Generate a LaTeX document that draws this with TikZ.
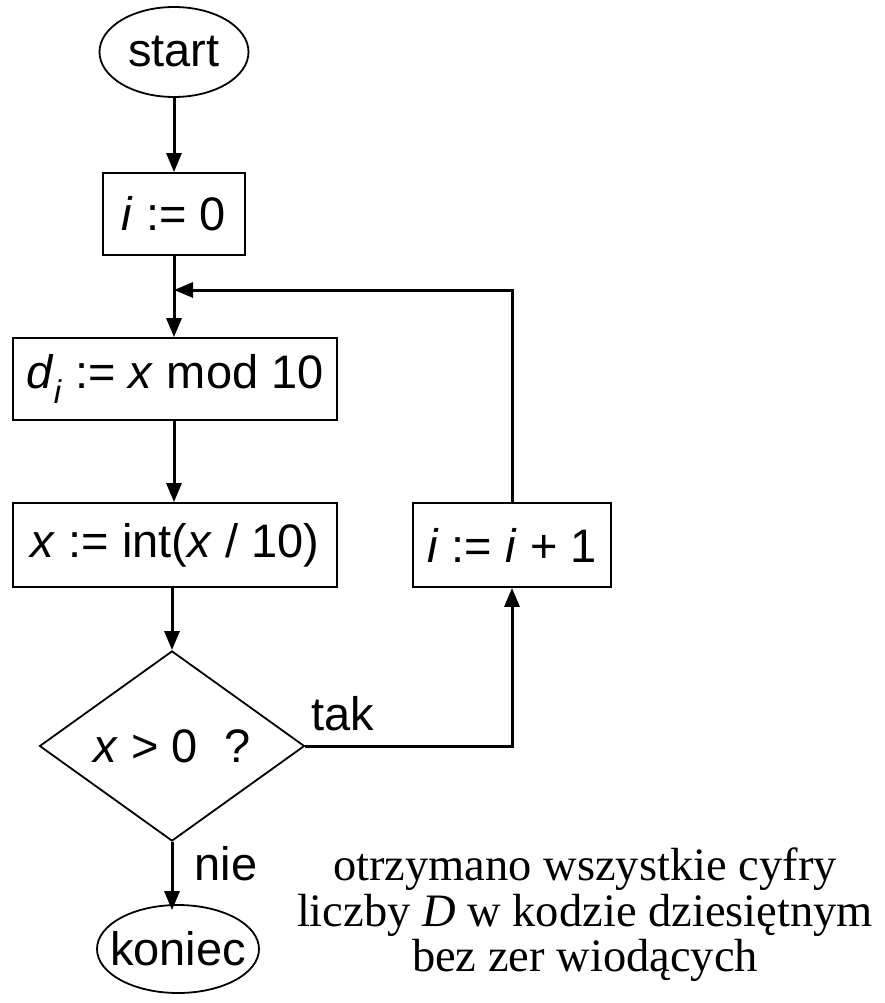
\documentclass[tikz,border=0pt]{standalone}
\usepackage{fontspec}
\setmainfont{Liberation Sans}
\newfontfamily\notefont{Liberation Serif}
\usetikzlibrary{shapes.geometric, positioning, arrows.meta}
\tikzstyle{every node}=[font=\fontsize{47}{50}\selectfont]
\tikzstyle{term}=[ellipse, draw, line width=1.8pt, inner xsep=-11pt, inner ysep=0pt]
\tikzstyle{block}=[rectangle, draw, line width=1.8pt, minimum height=82pt, inner sep=0pt]
\tikzstyle{decision}=[diamond, draw, line width=1.8pt, inner sep=0pt, minimum width=265pt, minimum height=157pt]
\tikzstyle{arrow}=[-{Triangle[length=19pt, width=15pt]}, line width=3pt]
\tikzstyle{flow}=[line width=3pt]

\begin{document}
\begin{tikzpicture}[x=1pt, y=-1pt]
  \useasboundingbox (0,0) rectangle (884,1003);
  % main column
  \node[term, minimum width=149pt, minimum height=90pt] (start) at (174,52) {start};
  \node[block, minimum width=142pt] (init) at (174,214) {\textit{i} := 0};
  \node[block, minimum width=324pt] (digit) at (175,379) {\textit{d}\textsubscript{\textit{i}} := \textit{x} mod 10};
  \node[block, minimum width=324pt, minimum height=84pt] (shift) at (175,545) {\textit{x} := int(\textit{x} / 10)};
  \node[decision] (test) at (172,746) {\textit{x} > 0\ \ ?};
  \node[term, minimum width=162pt, minimum height=88pt] (stop) at (178,949) {koniec};
  % loop branch
  \node[block, minimum width=198pt, minimum height=84pt] (incr) at (512,545) {\textit{i} := \textit{i} + 1};
  \coordinate (loop) at (174,290);
  % connectors
  \draw[arrow] (start) -- (init);
  \draw[flow] (init) -- (loop);
  \draw[arrow] (loop) -- (loop |- digit.north);
  \draw[arrow] (digit.south -| loop) -- (shift.north -| loop);
  \draw[arrow] (shift.south -| test) -- (test);
  \draw[arrow] (test.east) -| node[pos=0.09, above=10pt] {tak} (incr);
  \draw[arrow] (incr) |- (loop);
  \draw[arrow] (test.south) -- node[right=18pt, yshift=12pt] {nie} ([yshift=-6pt]test.south |- stop.north);
  % note
  \node[align=center, font=\notefont\fontsize{46.5}{45.5}\selectfont] (note) at (585,915)
    {otrzymano wszystkie cyfry\\liczby \textit{D} w kodzie dziesiętnym\\bez zer wiodących};
\end{tikzpicture}
\end{document}
